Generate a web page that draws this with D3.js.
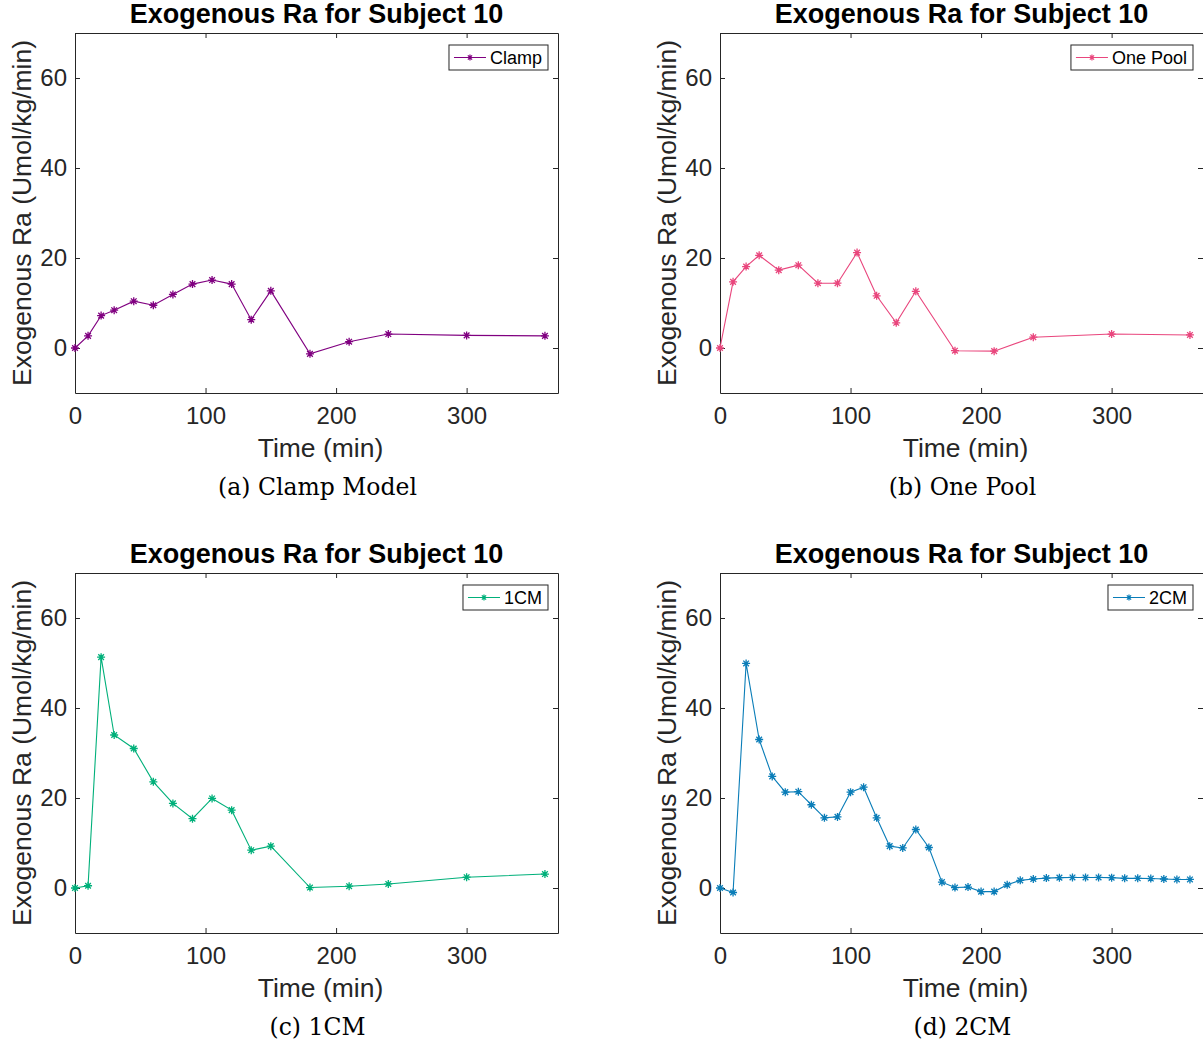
<!DOCTYPE html>
<html>
<head>
<meta charset="utf-8">
<script src="https://cdn.jsdelivr.net/npm/d3@7"></script>
<style>
  body { margin: 0; background: #fff; }
  svg text { font-family: "Liberation Sans", Arial, sans-serif; }
</style>
</head>
<body>
<div id="chart"></div>
<script>
(function(){

  // sample times (min)
  var timesCoarse = [0, 10, 20, 30, 45, 60, 75, 90, 105, 120, 135, 150, 180, 210, 240, 300, 360];
  var times2CM = [0, 10, 20, 30, 40, 50, 60, 70, 80, 90, 100, 110, 120, 130, 140, 150, 160, 170, 180,
    190, 200, 210, 220, 230, 240, 250, 260, 270, 280, 290, 300, 310, 320, 330, 340, 350, 360];

  // exogenous Ra values (Umol/kg/min)
  var clampVals = [0, 2.7, 7.2, 8.4, 10.4, 9.5, 11.9, 14.2, 15.1, 14.2, 6.3, 12.7, -1.3, 1.4, 3.1, 2.8, 2.7];
  var onePoolVals = [0, 14.7, 18.1, 20.6, 17.3, 18.4, 14.4, 14.4, 21.2, 11.6, 5.6, 12.6, -0.6, -0.7, 2.4, 3.1, 2.9];
  var oneCMVals = [0, 0.5, 51.3, 34, 31, 23.6, 18.8, 15.4, 19.9, 17.3, 8.4, 9.3, 0.1, 0.4, 0.9, 2.4, 3.1];
  var twoCMVals = [0, -1.0, 49.9, 33.0, 24.8, 21.3, 21.4, 18.5, 15.6, 15.8, 21.3, 22.4, 15.6, 9.3, 8.9, 13.0,
    9.0, 1.3, 0.1, 0.2, -0.8, -0.8, 0.7, 1.7, 2.0, 2.2, 2.3, 2.35, 2.35, 2.35, 2.3, 2.15, 2.15, 2.1, 2.0, 1.9, 1.9];

  var xTicks = [0, 100, 200, 300];
  var yTicks = [0, 20, 40, 60];

  var panels = [
    {name: 'Clamp', caption: '(a) Clamp Model', t: timesCoarse, v: clampVals, color: '#800080', left: 75, top: 33},
    {name: 'One Pool', caption: '(b) One Pool', t: timesCoarse, v: onePoolVals, color: '#E9467D', left: 720, top: 33},
    {name: '1CM', caption: '(c) 1CM', t: timesCoarse, v: oneCMVals, color: '#00B07A', left: 75, top: 573},
    {name: '2CM', caption: '(d) 2CM', t: times2CM, v: twoCMVals, color: '#0A7DB8', left: 720, top: 573}
  ];

  var W = 483, H = 360;
  var textCol = '#262626', axisCol = '#262626';

  var svg = d3.select('#chart')
    .append('svg')
    .attr('width', 1203)
    .attr('height', 1044);

  function asterisk(r) {
    var d = r * 0.7071;
    return 'M' + (-r) + ',0L' + r + ',0M0,' + (-r) + 'L0,' + r +
      'M' + (-d) + ',' + (-d) + 'L' + d + ',' + d + 'M' + (-d) + ',' + d + 'L' + d + ',' + (-d);
  }

  function drawPanel(p) {
    var x = d3.scaleLinear().domain([0, 370]).range([0, W]);
    var y = d3.scaleLinear().domain([-10, 70]).range([H, 0]);
    var data = p.t.map(function(t, i) { return {t: t, v: p.v[i]}; });

    var g = svg.append('g')
      .attr('transform', 'translate(' + p.left + ',' + p.top + ')');

    // frame with inward ticks on all sides
    var tickLen = 5;
    g.append('g').attr('transform', 'translate(0,' + H + ')')
      .call(d3.axisBottom(x).tickValues(xTicks).tickSizeInner(-tickLen).tickSizeOuter(0).tickPadding(14));
    g.append('g')
      .call(d3.axisTop(x).tickValues(xTicks).tickSizeInner(-tickLen).tickSizeOuter(0).tickFormat(''));
    g.append('g')
      .call(d3.axisLeft(y).tickValues(yTicks).tickSizeInner(-tickLen).tickSizeOuter(0).tickPadding(8));
    g.append('g').attr('transform', 'translate(' + W + ',0)')
      .call(d3.axisRight(y).tickValues(yTicks).tickSizeInner(-tickLen).tickSizeOuter(0).tickFormat(''));

    g.selectAll('.domain').attr('stroke', axisCol).attr('stroke-width', 1);
    g.selectAll('.tick line').attr('stroke', axisCol);
    g.selectAll('.tick text')
      .attr('fill', textCol)
      .style('font-size', '24px')
      .style('font-family', '"Liberation Sans", Arial, sans-serif');

    // series
    var line = d3.line()
      .x(function(d) { return x(d.t); })
      .y(function(d) { return y(d.v); });

    g.append('path')
      .datum(data)
      .attr('d', line)
      .attr('fill', 'none')
      .attr('stroke', p.color)
      .attr('stroke-width', 1.1);

    g.selectAll('.mk')
      .data(data)
      .enter()
      .append('path')
      .attr('class', 'mk')
      .attr('transform', function(d) { return 'translate(' + x(d.t) + ',' + y(d.v) + ')'; })
      .attr('d', asterisk(4))
      .attr('fill', 'none')
      .attr('stroke', p.color)
      .attr('stroke-width', 1.3);

    // title
    g.append('text')
      .attr('x', W / 2)
      .attr('y', -10)
      .attr('text-anchor', 'middle')
      .attr('fill', '#000')
      .style('font-size', '27px')
      .style('font-weight', 'bold')
      .text('Exogenous Ra for Subject 10');

    // axis labels
    g.append('text')
      .attr('x', W / 2 + 4)
      .attr('y', H + 64)
      .attr('text-anchor', 'middle')
      .attr('fill', textCol)
      .style('font-size', '26.5px')
      .text('Time (min)');

    g.append('text')
      .attr('transform', 'translate(' + (-44) + ',' + (H / 2) + ') rotate(-90)')
      .attr('text-anchor', 'middle')
      .attr('fill', textCol)
      .style('font-size', '26.5px')
      .text('Exogenous Ra (Umol/kg/min)');

    // caption
    g.append('text')
      .attr('x', W / 2 + 1)
      .attr('y', H + 102)
      .attr('text-anchor', 'middle')
      .attr('fill', '#000')
      .style('font-family', '"DejaVu Serif", "Liberation Serif", serif')
      .style('font-size', '23.5px')
      .text(p.caption);

    // legend
    var leg = g.append('g');
    var lt = leg.append('text')
      .attr('y', 6.5)
      .attr('fill', '#000')
      .style('font-size', '18px')
      .text(p.name);
    var tw = lt.node().getComputedTextLength();
    var boxW = 41 + tw + 6;
    var bx = W - 10 - boxW, by = 12;
    leg.attr('transform', 'translate(' + bx + ',' + (by + 12.5) + ')');
    leg.insert('rect', 'text')
      .attr('x', 0).attr('y', -12.5)
      .attr('width', boxW).attr('height', 25)
      .attr('fill', '#fff')
      .attr('stroke', axisCol)
      .attr('stroke-width', 1);
    leg.append('line')
      .attr('x1', 5).attr('x2', 37)
      .attr('y1', 0).attr('y2', 0)
      .attr('stroke', p.color)
      .attr('stroke-width', 1.1);
    leg.append('path')
      .attr('transform', 'translate(21,0)')
      .attr('d', asterisk(3))
      .attr('fill', 'none')
      .attr('stroke', p.color)
      .attr('stroke-width', 1.2);
    lt.attr('x', 41);
  }

  panels.forEach(drawPanel);
})();
</script>
</body>
</html>
